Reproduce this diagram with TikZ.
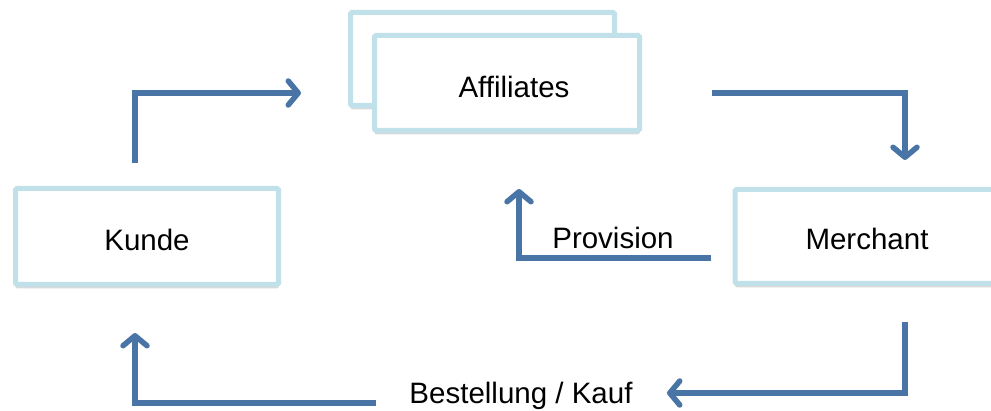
\documentclass[tikz,border=0pt]{standalone}
\usepackage{fontspec}
\setmainfont{Liberation Sans}
\usetikzlibrary{arrows.meta,shadows}
\definecolor{boxline}{RGB}{192,224,234}
\definecolor{flow}{RGB}{72,116,166}
\tikzset{
  box/.style={draw=boxline, line width=5pt, fill=white, rounded corners=1.5pt,
    inner sep=0pt,
    drop shadow={shadow xshift=0pt, shadow yshift=-4pt, opacity=0.3, fill=black!50}},
  flowline/.style={draw=flow, line width=5.5pt,
    -{Straight Barb[length=10pt,width=24pt,round]}},
  lbl/.style={font=\fontsize{29.5}{34}\selectfont, inner sep=0pt}
}
\begin{document}
\begin{tikzpicture}[x=1pt,y=-1pt]
\useasboundingbox (0,0) rectangle (991,411);
% boxes
\node[box, minimum width=264pt, minimum height=93pt] (affback) at (482.5,59) {};
\node[box, minimum width=265pt, minimum height=95pt] (aff) at (507,83) {};
\node[lbl] (afftext) at (514,87) {Affiliates};
\node[box, minimum width=263pt, minimum height=96pt] (kunde) at (147,236.5) {};
\node[lbl] at (147,240) {Kunde};
\node[box, minimum width=262pt, minimum height=94pt] (merchant) at (866,236.5) {};
\node[lbl] at (867,239) {Merchant};
% labels
\node[lbl] (prov) at (613,238) {Provision};
\node[lbl] (best) at (521,396) {Bestellung / Kauf};
% coordinates
\coordinate (a1) at (135,163);
\coordinate (a2) at (135,93);
\coordinate (a3) at (301,93);
\coordinate (b1) at (712,93);
\coordinate (b2) at (905,93);
\coordinate (b3) at (905,160);
\coordinate (c1) at (711,258);
\coordinate (c2) at (519,258);
\coordinate (c3) at (519,189);
\coordinate (d1) at (905,322);
\coordinate (d2) at (905,393);
\coordinate (d3) at (667,393);
\coordinate (e1) at (376,403);
\coordinate (e2) at (135,403);
\coordinate (e3) at (135,333);
% connectors
\draw[flowline] (a1) -- (a2) -- (a3);
\draw[flowline] (b1) -- (b2) -- (b3);
\draw[flowline] (c1) -- (c2) -- (c3);
\draw[flowline] (d1) -- (d2) -- (d3);
\draw[flowline] (e1) -- (e2) -- (e3);
\end{tikzpicture}
\end{document}
